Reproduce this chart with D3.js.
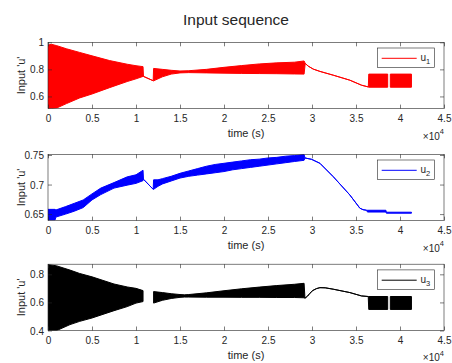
<!DOCTYPE html>
<html><head><meta charset="utf-8">
<script src="https://cdn.jsdelivr.net/npm/d3@7"></script>
<style>
body{margin:0;background:#fff}
svg{display:block}
text{font-family:"Liberation Sans",Arial,Helvetica,sans-serif;fill:#262626}
</style>
</head><body>
<svg id="chart" width="452" height="363"></svg>
<script>
// ---------- data (envelopes of the dense input signals) ----------
const xTickValues = [0, 5000, 10000, 15000, 20000, 25000, 30000, 35000, 40000, 45000];
const xTickLabels = ["0", "0.5", "1", "1.5", "2", "2.5", "3", "3.5", "4", "4.5"];

const u1Time  = [0, 400, 1000, 2100, 3600, 5000, 7000, 9000, 10000, 10800, 10850, 11950, 12000, 13000, 14000, 15000, 16000, 18000, 20000, 22000, 24000, 26000, 28000, 29100, 29230, 29570, 30140, 30900, 32410, 34300, 35630, 36400, 36450, 38600, 38750, 38900, 41300];
const u1Upper = [0.98, 0.985, 0.975, 0.952, 0.925, 0.9, 0.865, 0.838, 0.827, 0.82, 0.748, 0.716, 0.807, 0.8, 0.793, 0.788, 0.79, 0.8, 0.815, 0.828, 0.84, 0.848, 0.853, 0.862, 0.844, 0.824, 0.802, 0.785, 0.757, 0.72, 0.683, 0.67, 0.765, 0.765, null, 0.765, 0.765];
const u1Lower = [0.51, 0.51, 0.515, 0.547, 0.589, 0.618, 0.665, 0.71, 0.73, 0.748, 0.748, 0.716, 0.715, 0.745, 0.765, 0.774, 0.776, 0.774, 0.772, 0.77, 0.769, 0.768, 0.766, 0.765, 0.844, 0.824, 0.802, 0.785, 0.757, 0.72, 0.683, 0.67, 0.668, 0.668, null, 0.668, 0.668];

const u2Time  = [0, 800, 900, 2000, 3000, 4000, 5000, 6000, 7500, 9000, 10000, 10800, 10850, 11950, 12000, 12500, 13000, 14000, 15000, 16000, 17000, 18000, 19000, 20000, 21000, 22000, 23000, 24000, 25000, 26000, 27000, 28000, 29100, 29200, 29950, 30900, 32410, 34300, 35440, 35800, 36200, 36300, 38400, 38450, 41300];
const u2Upper = [0.658, 0.658, 0.657, 0.6627, 0.6683, 0.6739, 0.6842, 0.694, 0.7033, 0.713, 0.7165, 0.7242, 0.709, 0.692, 0.708, 0.708, 0.71, 0.714, 0.719, 0.723, 0.727, 0.731, 0.734, 0.736, 0.738, 0.74, 0.742, 0.743, 0.745, 0.746, 0.748, 0.749, 0.751, 0.745, 0.7427, 0.736, 0.7134, 0.6824, 0.66, 0.6575, 0.6565, 0.6565, 0.6565, 0.6532, 0.6532];
const u2Lower = [0.640, 0.640, 0.645, 0.650, 0.655, 0.661, 0.674, 0.683, 0.694, 0.699, 0.702, 0.7066, 0.709, 0.692, 0.692, 0.697, 0.701, 0.706, 0.711, 0.714, 0.716, 0.718, 0.72, 0.722, 0.725, 0.727, 0.729, 0.731, 0.733, 0.735, 0.737, 0.739, 0.741, 0.745, 0.7427, 0.736, 0.7134, 0.6824, 0.66, 0.6575, 0.6565, 0.6535, 0.6535, 0.6515, 0.6515];

const u3Time  = [0, 1000, 2500, 3600, 5000, 7500, 9000, 10000, 10800, 11400, 12000, 13000, 14000, 15000, 15500, 16000, 18000, 20000, 22000, 24000, 26000, 28000, 29100, 29200, 29500, 29760, 30100, 30500, 30900, 31500, 32410, 34300, 35630, 36390, 36450, 38600, 38750, 38900, 41300];
const u3Upper = [0.87, 0.86, 0.83, 0.806, 0.782, 0.731, 0.71, 0.70, 0.684, null, 0.677, 0.67, 0.662, 0.656, 0.654, 0.656, 0.668, 0.683, 0.697, 0.709, 0.72, 0.729, 0.736, 0.63, 0.645, 0.665, 0.685, 0.698, 0.705, 0.704, 0.694, 0.67, 0.646, 0.642, 0.642, 0.642, null, 0.642, 0.642];
const u3Lower = [0.40, 0.40, 0.442, 0.465, 0.489, 0.541, 0.57, 0.595, 0.606, null, 0.595, 0.615, 0.628, 0.636, 0.638, 0.638, 0.637, 0.637, 0.636, 0.636, 0.635, 0.635, 0.633, 0.63, 0.645, 0.665, 0.685, 0.698, 0.705, 0.704, 0.694, 0.67, 0.646, 0.642, 0.55, 0.55, null, 0.55, 0.55];

const y1Ticks = [0.6, 0.8, 1];      const y1TickLabels = ["0.6", "0.8", "1"];
const y2Ticks = [0.65, 0.7, 0.75];  const y2TickLabels = ["0.65", "0.7", "0.75"];
const y3Ticks = [0.4, 0.6, 0.8];    const y3TickLabels = ["0.4", "0.6", "0.8"];

const seriesNames = ["1", "2", "3"];
const seriesColors = ["#ff0000", "#0000ff", "#000000"];

// ---------- layout ----------
const svg = d3.select("#chart");
const L = 48, R = 444, PH = 66.3;
const tops = [42.3, 154.3, 264.2];
const yDomains = [[0.51, 1.0], [0.639, 0.7512], [0.4, 0.872]];
const axisColor = "#262626";

svg.append("text").attr("x", 236).attr("y", 24.5).attr("text-anchor", "middle")
  .attr("font-size", 15.5).text("Input sequence");

const panels = [
  {t: u1Time, hi: u1Upper, lo: u1Lower, yt: y1Ticks, ytl: y1TickLabels},
  {t: u2Time, hi: u2Upper, lo: u2Lower, yt: y2Ticks, ytl: y2TickLabels},
  {t: u3Time, hi: u3Upper, lo: u3Lower, yt: y3Ticks, ytl: y3TickLabels}
];

panels.forEach((p, i) => {
  const g = svg.append("g").attr("transform", `translate(0,${tops[i]})`);
  const x = d3.scaleLinear().domain([0, 45000]).range([L, R]);
  const y = d3.scaleLinear().domain(yDomains[i]).range([PH, 0]);

  const clipId = "clip" + i;
  g.append("clipPath").attr("id", clipId).append("rect")
    .attr("x", L).attr("y", 0).attr("width", R - L).attr("height", PH);

  const rows = p.t.map((t, k) => ({t, hi: p.hi[k], lo: p.lo[k]}));
  const area = d3.area()
    .defined(d => d.hi != null && d.lo != null)
    .x(d => x(d.t)).y0(d => y(d.lo)).y1(d => y(d.hi));

  g.append("path").datum(rows).attr("clip-path", `url(#${clipId})`)
    .attr("d", area).attr("fill", seriesColors[i])
    .attr("stroke", seriesColors[i]).attr("stroke-width", 1).attr("stroke-linejoin", "round");

  // axes (MATLAB style: ticks inside, on all four sides)
  const styleAxis = sel => {
    sel.select(".domain").remove();
    sel.selectAll(".tick line").attr("stroke", axisColor).attr("stroke-width", 0.6);
    sel.selectAll("text").attr("font-family", null).attr("fill", axisColor).attr("font-size", 10);
  };
  const xb = g.append("g").attr("transform", `translate(0,${PH})`)
    .call(d3.axisBottom(x).tickValues(xTickValues).tickFormat((d, k) => xTickLabels[k])
      .tickSizeInner(-4).tickSizeOuter(0));
  styleAxis(xb);
  xb.selectAll("text").attr("y", 13.8).attr("dy", 0);

  const xt = g.append("g").call(d3.axisTop(x).tickValues(xTickValues).tickFormat("")
    .tickSizeInner(-4).tickSizeOuter(0));
  styleAxis(xt);

  const yl = g.append("g").attr("transform", `translate(${L},0)`)
    .call(d3.axisLeft(y).tickValues(p.yt).tickFormat((d, k) => p.ytl[k])
      .tickSizeInner(-4).tickSizeOuter(0));
  styleAxis(yl);
  yl.selectAll("text").attr("x", -4).attr("dy", "0.35em");

  const yr = g.append("g").attr("transform", `translate(${R},0)`)
    .call(d3.axisRight(y).tickValues(p.yt).tickFormat("").tickSizeInner(-4).tickSizeOuter(0));
  styleAxis(yr);

  // box
  g.append("rect").attr("x", L).attr("y", 0).attr("width", R - L).attr("height", PH)
    .attr("fill", "none").attr("stroke", axisColor).attr("stroke-width", 0.6);

  // labels
  g.append("text").attr("x", (L + R) / 2).attr("y", PH + 28.3)
    .attr("text-anchor", "middle").attr("font-size", 11).text("time (s)");
  const ex = g.append("text").attr("x", R).attr("y", PH + 31)
    .attr("text-anchor", "end").attr("font-size", 10);
  ex.append("tspan").text("\u00d710");
  ex.append("tspan").attr("dy", -5.5).attr("font-size", 7.5).text("4");

  g.append("text").attr("transform", `translate(25,${PH / 2}) rotate(-90)`)
    .attr("text-anchor", "middle").attr("font-size", 11).text("Input 'u'");

  // legend
  const lg = g.append("g");
  lg.append("rect").attr("x", 377.3).attr("y", 5.7).attr("width", 57).attr("height", 19.5)
    .attr("fill", "#fff").attr("stroke", axisColor).attr("stroke-width", 0.6);
  lg.append("line").attr("x1", 381.7).attr("x2", 416.7).attr("y1", 16).attr("y2", 16)
    .attr("stroke", seriesColors[i]).attr("stroke-width", 1);
  const lt = lg.append("text").attr("x", 420.5).attr("y", 18.5).attr("font-size", 10);
  lt.append("tspan").text("u");
  lt.append("tspan").attr("dy", 3).attr("font-size", 7.5).text(seriesNames[i]);
});
</script>
</body></html>
